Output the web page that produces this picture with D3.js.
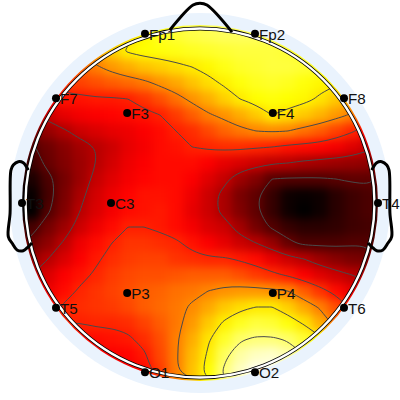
<!DOCTYPE html>
<html>
<head>
<meta charset="utf-8">
<script src="https://cdn.jsdelivr.net/npm/d3@7"></script>
<style>
  html, body { margin: 0; padding: 0; background: #fff; }
  svg { display: block; }
</style>
</head>
<body>
<div id="chart"></div>
<script>
// Electrodes: angle from the nose in degrees, radius in head units
const electrodeNames = ["Fp1", "Fp2", "F7", "F3", "F4", "F8", "T3", "C3", "T4", "T5", "P3", "P4", "T6", "O1", "O2"];
const electrodeAngles = [-18, 18, -54, -39, 39, 54, -90, -90, 90, -126, -141, 141, 126, -162, 162];
const electrodeRadii = [1, 1, 1, 0.65, 0.65, 1, 1, 0.5, 1, 1, 0.65, 0.65, 1, 1, 1];

// Contour levels, same 0-100 units as the map
const contourLevels = [13, 27, 42, 57, 72, 86];

// Map values, 0 is black and 100 is white, rows go top to bottom
const mapRows = [
  [60, 60, 60, 60, 62, 66, 70, 74, 78, 80, 82, 83, 84, 84, 84, 83, 82, 80, 78, 76, 74, 72],
  [55, 55, 58, 60, 62, 68, 73, 75, 76, 77, 78, 79, 80, 81, 81, 81, 80, 79, 78, 76, 74, 72],
  [40, 44, 48, 52, 56, 60, 63, 66, 68, 70, 72, 74, 77, 79, 80, 81, 81, 80, 79, 77, 75, 72],
  [38, 42, 45, 47, 49, 51, 53, 55, 59, 62, 66, 70, 73, 76, 78, 79, 78, 76, 74, 73, 70, 66],
  [30, 36, 40, 40, 41, 41, 42, 45, 49, 54, 59, 63, 68, 72, 75, 76, 75, 74, 71, 67, 62, 56],
  [26, 30, 34, 36, 37, 38, 39, 40, 42, 46, 51, 56, 59, 63, 67, 72, 70, 67, 64, 60, 56, 50],
  [18, 22, 26, 30, 32, 34, 35, 37, 39, 42, 44, 48, 52, 55, 57, 58, 57, 54, 51, 47, 43, 37],
  [12, 16, 20, 24, 27, 30, 34, 36, 39, 40, 42, 43, 44, 44, 43, 42, 40, 39, 38, 36, 33, 29],
  [9, 15, 19, 23, 27, 31, 35, 37, 39, 39, 39, 37, 34, 32, 30, 28, 27, 25, 24, 23, 22, 21],
  [4, 11, 17, 23, 29, 33, 36, 38, 39, 39, 37, 33, 29, 23, 19, 13, 12, 12, 12, 13, 14, 14],
  [1, 10, 18, 25, 31, 35, 38, 40, 40, 39, 35, 30, 25, 18, 14, 8, 2, 1, 2, 6, 9, 11],
  [0, 12, 19, 27, 32, 36, 39, 40, 41, 39, 34, 30, 25, 19, 14, 8, 2, 0, 2, 6, 9, 11],
  [10, 17, 23, 30, 35, 39, 42, 42, 41, 39, 36, 32, 30, 24, 17, 12, 8, 6, 6, 7, 9, 10],
  [16, 21, 28, 35, 39, 42, 45, 45, 44, 43, 40, 37, 34, 30, 27, 22, 15, 11, 11, 11, 12, 12],
  [22, 27, 32, 37, 41, 44, 46, 47, 47, 45, 44, 43, 43, 41, 39, 34, 30, 27, 23, 20, 18, 17],
  [27, 32, 37, 40, 43, 46, 48, 49, 49, 50, 51, 51, 51, 49, 46, 44, 41, 37, 33, 30, 27, 25],
  [31, 35, 39, 43, 45, 47, 49, 51, 52, 54, 55, 57, 59, 60, 60, 59, 57, 51, 45, 39, 34, 30],
  [34, 39, 43, 44, 45, 46, 48, 51, 53, 55, 58, 62, 67, 70, 72, 72, 68, 62, 56, 49, 40, 34],
  [38, 41, 42, 42, 43, 43, 44, 47, 51, 55, 60, 67, 73, 78, 81, 80, 76, 71, 63, 54, 46, 38],
  [34, 36, 38, 39, 39, 40, 41, 44, 49, 56, 63, 71, 79, 85, 87, 87, 85, 80, 74, 65, 55, 45],
  [32, 33, 34, 35, 36, 37, 38, 41, 48, 56, 65, 73, 84, 91, 94, 95, 92, 86, 79, 70, 60, 50],
  [30, 31, 32, 33, 34, 35, 36, 38, 46, 56, 66, 75, 87, 94, 99, 99, 96, 90, 82, 72, 62, 52]
];

// Head outline in head units, the left ear is this one mirrored
const noseX = [-0.169, -0.039, 0, 0.039, 0.18];
const noseY = [0.972, 1.112, 1.122, 1.112, 0.96];
const earX = [0.965, 0.993, 1.021, 1.049, 1.062, 1.067, 1.077, 1.056, 1.028, 0.993, 0.965, 0.944];
const earY = [0.185, 0.226, 0.232, 0.213, 0.185, -0.056, -0.189, -0.225, -0.264, -0.268, -0.246, -0.225];

const width = 400;
const height = 400;
const cx = 200;
const cy = 203;

const svg = d3.select("#chart").append("svg")
    .attr("width", width)
    .attr("height", height)
    .attr("viewBox", [0, 0, width, height]);

// Head unit scales
const x = d3.scaleLinear().domain([-1, 1]).range([22, 378]);
const y = d3.scaleLinear().domain([1, -1]).range([25, 381]);
const radius = d3.scaleLinear().domain([0, 1]).range([0, 178]);

// Scales for the map cells
const nCols = mapRows[0].length;
const nRows = mapRows.length;
const col = d3.scaleBand().domain(d3.range(nCols)).range([24, 376]);
const row = d3.scaleBand().domain(d3.range(nRows)).range([27, 379]);

// Same stops as the matlab "hot" colormap
const color = d3.scaleLinear()
    .domain([0, 37.5, 75, 100])
    .range(["#000000", "#ff0000", "#ffff00", "#ffffff"])
    .clamp(true);

const defs = svg.append("defs");
defs.append("clipPath").attr("id", "mapClip")
    .append("circle").attr("cx", cx).attr("cy", cy).attr("r", 178);
defs.append("clipPath").attr("id", "lineClip")
    .append("circle").attr("cx", cx).attr("cy", cy).attr("r", 173);

// Soften the cells, alpha is pushed back up so the outer edge stays solid
const blur = defs.append("filter").attr("id", "soften")
    .attr("filterUnits", "userSpaceOnUse")
    .attr("x", 0).attr("y", 0).attr("width", width).attr("height", height)
    .attr("color-interpolation-filters", "sRGB");
blur.append("feGaussianBlur").attr("stdDeviation", 5);
blur.append("feComponentTransfer").append("feFuncA").attr("type", "linear").attr("slope", 30);

// Pale ring behind the head
svg.append("circle")
    .attr("cx", cx).attr("cy", cy).attr("r", 190)
    .attr("fill", "#eaf3fd");

// Map
svg.append("g")
    .attr("clip-path", "url(#mapClip)")
  .append("g")
    .attr("filter", "url(#soften)")
  .selectAll("g")
  .data(mapRows)
  .join("g")
  .selectAll("rect")
  .data((d, j) => d.map((v, i) => ({ v, i, j })))
  .join("rect")
    .attr("x", d => col(d.i))
    .attr("y", d => row(d.j))
    .attr("width", col.bandwidth())
    .attr("height", row.bandwidth())
    .attr("shape-rendering", "crispEdges")
    .attr("fill", d => color(d.v));

// Contour lines from the same values
const contours = d3.contours().size([nCols, nRows]).thresholds(contourLevels)(mapRows.flat());
const gx = d3.scaleLinear().domain([0, nCols]).range(col.range());
const gy = d3.scaleLinear().domain([0, nRows]).range(row.range());
const ringLine = d3.line().x(d => gx(d[0])).y(d => gy(d[1])).curve(d3.curveBasisClosed);

svg.append("g")
    .attr("clip-path", "url(#lineClip)")
    .attr("fill", "none")
    .attr("stroke", "#4a4a4a")
    .attr("stroke-width", 1)
  .selectAll("path")
  .data(contours.flatMap(c => c.coordinates.flatMap(poly => poly.map(r => r.slice(0, -1)))))
  .join("path")
    .attr("d", ringLine);

// Head ring
svg.append("circle")
    .attr("cx", cx).attr("cy", cy).attr("r", 174.5)
    .attr("fill", "none").attr("stroke", "#000").attr("stroke-width", 4);
svg.append("circle")
    .attr("cx", cx).attr("cy", cy).attr("r", 174.5)
    .attr("fill", "none").attr("stroke", "#fff").attr("stroke-width", 2.4);

// Nose and ears
const outline = d3.line().x(d => x(d[0])).y(d => y(d[1])).curve(d3.curveCatmullRom);
const ear = earX.map((v, i) => [v, earY[i]]);
svg.append("g")
    .attr("fill", "none")
    .attr("stroke", "#000")
    .attr("stroke-width", 3)
    .attr("stroke-linejoin", "round")
  .selectAll("path")
  .data([noseX.map((v, i) => [v, noseY[i]]), ear, ear.map(d => [-d[0], d[1]])])
  .join("path")
    .attr("d", outline);

// Electrodes
const electrodes = electrodeNames.map((name, i) => {
    const a = electrodeAngles[i] * Math.PI / 180;
    return {
        name,
        px: cx + radius(electrodeRadii[i]) * Math.sin(a),
        py: cy - radius(electrodeRadii[i]) * Math.cos(a)
    };
});

svg.append("g")
  .selectAll("circle")
  .data(electrodes)
  .join("circle")
    .attr("cx", d => d.px)
    .attr("cy", d => d.py)
    .attr("r", 4)
    .attr("fill", "#000");

svg.append("g")
    .attr("font-family", "'Liberation Sans', Arial, sans-serif")
    .attr("font-size", 15.2)
    .attr("fill", "#111")
  .selectAll("text")
  .data(electrodes)
  .join("text")
    .attr("x", d => d.px + 4)
    .attr("y", d => d.py + 6)
    .text(d => d.name);
</script>
</body>
</html>
